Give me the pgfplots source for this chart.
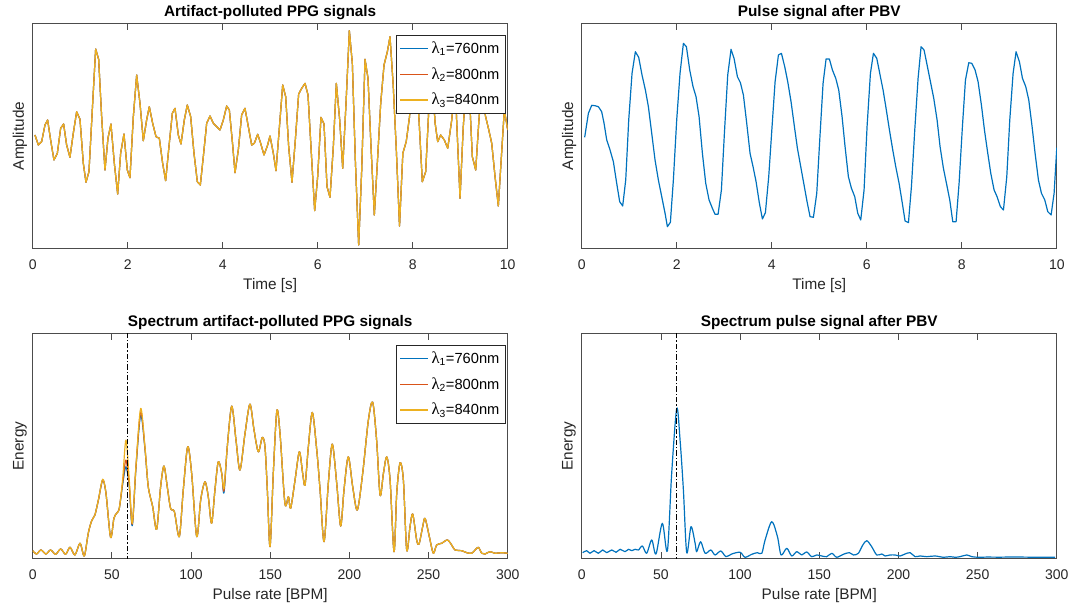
\documentclass[border=0pt]{standalone}
\usepackage{fontspec}
\setmainfont{Liberation Sans}
\newfontfamily\lamfont{Liberation Serif}
\usepackage{pgfplots}
\pgfplotsset{compat=1.18}
\usepackage{pgfplotstable}
\definecolor{mblue}{RGB}{0,114,189}
\definecolor{mred}{RGB}{217,83,25}
\definecolor{myel}{RGB}{237,177,32}
\definecolor{axgray}{RGB}{38,38,38}
\newcommand{\lam}[1]{{\lamfont\fontsize{12.5}{12}\selectfont λ}\textsubscript{#1}}

% raw PPG (same for the three wavelengths at this scale)
\pgfplotstableread{
t v
0.048 112.7
0.119 102.7
0.189 106
0.259 122.7
0.315 127.7
0.378 107.7
0.448 87.7
0.519 94.4
0.589 119.4
0.652 123.7
0.715 102.7
0.785 90.4
0.855 114.4
0.926 136.0
0.996 128.4
1.066 84.4
1.122 65.4
1.185 76.0
1.263 144.4
1.326 198.7
1.389 188.4
1.452 131.0
1.522 77.7
1.585 109.4
1.648 123.7
1.719 84.4
1.789 53.7
1.852 94.4
1.922 113.7
1.992 77.7
2.048 70.0
2.119 131.0
2.189 172.7
2.259 144.4
2.329 107.0
2.399 127.7
2.455 141.0
2.526 124.4
2.596 111.0
2.666 109.4
2.736 84.4
2.799 67.0
2.869 101.0
2.940 134.4
2.996 139.4
3.066 112.7
3.122 103.7
3.192 127.7
3.255 142.7
3.326 131.0
3.396 94.4
3.466 66.0
3.529 62.7
3.592 91.0
3.663 124.4
3.733 131.7
3.803 124.4
3.873 121.0
3.943 117.7
4.013 127.7
4.084 141.7
4.140 137.7
4.210 102.7
4.259 75.0
4.329 97.7
4.399 132.7
4.469 139.4
4.540 121.0
4.610 102.7
4.666 104.4
4.736 113.4
4.799 104.4
4.869 92.7
4.940 101.7
4.996 111.7
5.066 94.4
5.122 77.0
5.192 119.4
5.263 162.7
5.326 151.0
5.389 101.0
5.459 65.4
5.529 107.7
5.599 153.7
5.663 159.4
5.733 164.4
5.796 152.7
5.866 94.4
5.936 37.0
5.999 71.0
6.069 130.4
6.133 123.7
6.196 61.0
6.259 50.4
6.329 101.0
6.392 164.4
6.463 127.7
6.526 79.4
6.596 144.4
6.666 217.0
6.729 184.4
6.792 87.7
6.862 2.7
6.926 77.7
6.996 188.4
7.059 169.4
7.122 101.0
7.192 32.7
7.255 84.4
7.326 144.4
7.396 182.7
7.466 196.0
7.522 211.0
7.589 162.7
7.655 97.7
7.722 21.7
7.792 94.4
7.863 106.0
7.933 131.0
8.003 180.0
8.070 175.0
8.136 125.0
8.202 66.0
8.273 76.0
8.340 140.0
8.410 172.0
8.470 125.0
8.526 106.0
8.589 112.7
8.665 107.7
8.737 99.4
8.821 127.7
8.890 165.0
8.996 49.4
9.063 120.0
9.130 168.0
9.196 150.0
9.255 91.0
9.326 77.7
9.390 125.0
9.460 170.0
9.530 132.0
9.600 118.0
9.663 104.4
9.733 71.0
9.802 41.7
9.865 90.0
9.928 137.7
10.000 117.7
}\rawppg

% pulse after PBV
\pgfplotstableread{
t v
0.062 110.4
0.140 134.4
0.210 142.4
0.280 142.0
0.350 141.0
0.420 136.0
0.470 124.4
0.526 107.7
0.596 97.7
0.666 86.0
0.736 64.4
0.799 46.0
0.862 41.7
0.926 67.7
0.989 127.7
1.059 174.4
1.129 196.0
1.199 190.4
1.269 172.7
1.340 157.7
1.403 141.0
1.473 114.4
1.543 87.7
1.613 67.7
1.684 51.0
1.754 34.4
1.803 21.0
1.866 25.4
1.929 67.7
1.999 127.7
2.069 174.4
2.140 204.4
2.203 201.0
2.273 177.7
2.343 161.0
2.406 151.0
2.470 131.0
2.540 94.4
2.610 64.4
2.680 47.7
2.750 39.4
2.806 33.4
2.870 33.4
2.940 57.7
3.003 114.4
3.073 172.7
3.143 198.4
3.206 189.4
3.277 171.0
3.340 165.0
3.403 152.7
3.473 124.4
3.543 94.4
3.606 81.0
3.670 66.0
3.740 44.4
3.803 28.7
3.866 35.0
3.936 71.0
4.006 121.0
4.070 166.0
4.140 192.7
4.203 194.4
4.273 181.0
4.336 166.0
4.406 146.0
4.477 121.0
4.540 99.4
4.610 81.0
4.673 64.4
4.743 46.0
4.806 31.0
4.877 30.4
4.947 54.4
5.010 107.7
5.080 164.4
5.143 188.7
5.213 188.7
5.277 177.7
5.347 169.4
5.410 157.7
5.480 131.0
5.543 101.0
5.613 71.0
5.677 59.4
5.747 51.0
5.810 34.4
5.873 27.7
5.943 57.7
6.006 121.0
6.077 174.4
6.140 194.4
6.210 189.4
6.273 174.4
6.343 157.7
6.406 139.4
6.477 117.7
6.547 97.7
6.610 81.0
6.680 64.4
6.743 46.0
6.806 26.7
6.877 25.0
6.940 61.0
7.010 117.7
7.080 169.4
7.143 201.0
7.206 197.7
7.277 181.0
7.347 164.4
7.410 149.4
7.480 127.7
7.543 101.0
7.613 79.4
7.677 64.4
7.747 47.7
7.810 26.0
7.880 26.0
7.943 64.4
8.013 121.0
8.077 167.7
8.147 185.0
8.210 184.4
8.280 177.7
8.343 166.0
8.413 142.7
8.477 117.7
8.547 94.4
8.610 74.4
8.680 57.7
8.743 51.0
8.813 41.0
8.877 37.7
8.947 71.0
9.010 127.7
9.080 174.4
9.143 196.0
9.213 186.0
9.277 169.4
9.347 161.0
9.410 147.7
9.480 121.0
9.543 94.4
9.613 67.7
9.677 54.4
9.747 47.7
9.810 36.0
9.880 32.7
9.943 54.4
10.000 100.0
}\pulse

% spectrum of raw signals
\pgfplotstableread{
f a b c
0.0 6.0 6.0 6.0
2.5 2.7 2.7 2.7
5.2 6.7 6.7 6.7
8.4 2.7 2.7 2.7
11.3 6.7 6.7 6.7
14.5 2.4 2.4 2.4
17.7 7.7 7.7 7.7
20.8 2.4 2.4 2.4
23.6 9.4 9.4 9.4
26.7 1.7 1.7 1.7
29.9 13.4 13.4 13.4
32.6 0.7 0.7 0.7
35.1 23.4 23.4 23.4
37.2 35.7 35.7 35.7
39.3 41.7 41.7 41.7
41.5 56.7 56.7 56.7
44.2 76.7 76.7 77.5
46.3 63.4 63.4 63.4
49.2 19.4 19.4 19.4
51.3 38.4 38.4 38.4
53.0 43.4 43.4 43.4
54.7 48.4 48.4 48.4
56.8 72.0 74.0 76.7
58.9 90.0 96.7 116.7
61.0 70.0 72.0 76.7
62.9 31.0 32.5 33.4
65.2 88.0 89.0 90.0
68.2 141.7 145.0 148.4
70.9 108.0 109.0 110.0
73.0 70.0 70.0 70.0
75.8 50.0 50.0 50.0
78.3 27.4 27.4 27.4
80.8 70.0 70.0 70.0
82.9 90.7 90.7 90.7
85.0 70.0 70.0 70.0
87.1 48.4 48.4 48.4
89.5 45.0 45.0 45.0
92.6 20.0 20.0 20.0
95.1 66.7 66.7 66.7
97.9 110.0 110.0 110.0
100.4 83.4 83.4 83.4
103.6 20.0 20.0 20.0
106.1 56.7 56.7 56.7
108.8 75.0 75.0 75.0
110.9 60.0 60.0 60.0
113.0 33.4 33.4 33.4
115.1 66.7 66.7 66.7
117.2 95.0 95.0 95.0
119.4 83.4 83.4 83.4
120.8 64.0 66.0 68.4
122.9 110.0 110.0 110.0
125.7 150.7 150.7 150.7
128.4 116.7 116.7 116.7
130.9 86.7 86.7 86.7
134.1 123.4 123.4 123.4
137.2 152.7 152.7 152.7
139.8 126.7 126.7 126.7
142.5 105.0 105.0 105.0
145.0 119.4 119.4 119.4
146.7 110.0 110.0 110.0
148.2 66.7 66.7 66.7
149.9 10.0 10.0 10.0
152.0 85.0 85.0 85.0
154.2 146.0 146.0 146.0
156.2 123.4 123.4 123.4
159.3 53.4 53.4 53.4
161.5 60.0 60.0 60.0
162.9 48.4 48.4 48.4
165.7 76.7 76.7 76.7
168.4 105.0 105.0 105.0
170.5 83.4 83.4 83.4
172.0 71.7 71.7 71.7
174.1 110.0 110.0 110.0
176.6 144.4 144.4 144.4
179.4 106.7 106.7 106.7
181.5 66.7 66.7 66.7
184.0 15.0 15.0 15.0
186.7 73.4 73.4 73.4
189.2 112.7 112.7 112.7
192.0 73.4 73.4 73.4
194.5 30.7 30.7 30.7
196.6 66.7 66.7 66.7
199.3 100.0 100.0 100.0
202.1 70.0 70.0 70.0
205.0 46.7 46.7 46.7
208.4 83.4 83.4 83.4
212.0 136.7 136.7 136.7
214.7 154.7 154.7 154.7
217.2 116.7 116.7 116.7
219.4 61.7 61.7 61.7
221.5 83.4 83.4 83.4
223.6 100.0 100.0 100.0
225.7 76.7 76.7 76.7
228.2 5.0 5.0 5.0
229.9 63.4 63.4 63.4
232.0 94.0 94.0 94.0
234.1 76.7 76.7 76.7
236.2 6.7 6.7 6.7
238.3 30.0 30.0 30.0
240.0 42.7 42.7 42.7
242.5 16.7 16.7 16.7
244.0 12.7 12.7 12.7
246.3 30.0 30.0 30.0
247.8 38.4 38.4 38.4
250.5 20.0 20.0 20.0
253.0 3.4 3.4 3.4
255.1 11.7 11.7 11.7
258.3 13.4 13.4 13.4
261.9 16.7 16.7 16.7
264.6 11.7 11.7 11.7
266.7 6.7 6.7 6.7
270.9 6.0 6.0 6.0
274.1 4.0 4.0 4.0
277.2 3.4 3.4 3.4
279.4 6.7 6.7 6.7
281.5 9.4 9.4 9.4
283.6 3.4 3.4 3.4
285.7 2.7 2.7 2.7
288.8 5.0 5.0 5.0
292.0 3.4 3.4 3.4
296.2 4.0 4.0 4.0
300.0 3.4 3.4 3.4
}\rawspec

% spectrum of pulse signal
\pgfplotstableread{
f v
0.6 4.8
3.1 6.8
5.2 4.2
7.8 6.8
10.5 4.2
13.2 7.5
15.8 4.8
18.9 7.5
21.7 5.2
24.2 8.2
27.3 5.8
29.5 8.2
31.6 6.8
33.7 8.2
35.8 7.5
38.3 11.5
41.0 4.2
44.2 17.5
46.9 3.5
50.9 34.2
54.1 6.8
56.8 84.2
60.0 149.2
62.1 117.5
64.2 67.5
66.3 4.8
69.0 30.8
71.6 14.2
72.6 5.8
75.1 15.8
77.9 4.2
81.5 7.5
84.2 2.5
87.8 6.5
91.1 0.8
94.7 3.5
100.0 5.2
103.1 0.2
107.4 3.2
110.9 4.8
113.7 4.2
115.8 17.5
120.0 35.8
123.6 20.8
125.9 2.5
129.5 9.2
132.6 1.5
135.8 5.8
138.9 2.5
142.1 5.5
145.2 0.8
148.4 2.5
151.6 1.5
154.7 0.8
157.9 4.2
161.0 0.2
165.2 3.2
169.0 4.8
171.6 2.5
174.7 4.2
177.5 12.5
180.0 16.8
183.1 10.8
186.3 2.5
189.5 3.5
191.6 1.5
194.7 2.5
197.9 2.5
201.0 1.5
204.2 3.5
207.4 4.8
210.5 0.8
213.7 1.5
217.9 0.8
223.1 1.5
228.4 0.2
232.6 0.8
235.8 0.2
238.9 0.8
243.2 2.5
246.3 0.8
250.5 0.2
255.8 0.4
264.2 0.3
272.6 0.5
283.1 0.3
298.9 0.3
}\pulsespec

\pgfplotsset{mat/.style={
  scale only axis,width=356.3pt,height=168.4pt,
  axis line style={black!70,line width=0.6pt},
  tick style={black!70,line width=0.6pt},
  tick align=inside,major tick length=4.5pt,
  ytick=\empty,
  /pgf/number format/assume math mode=true,
  tick label style={font=\fontsize{10.5}{12}\selectfont,text=axgray},
  xticklabel style={anchor=center,yshift=-12pt},
  label style={font=\fontsize{11.5}{13}\selectfont,text=axgray},
  xlabel style={at={(axis description cs:0.5,0)},anchor=center,yshift=-27.75pt},
  ylabel style={at={(axis description cs:-0.0267,0.5)},anchor=center},
  title style={font=\bfseries\fontsize{11.5}{13}\selectfont,at={(axis description cs:0.5,1)},anchor=center,yshift=2.4pt},
  legend cell align=left,
  legend style={at={(axis description cs:0.9958,0.951)},anchor=north east,draw=axgray,line width=0.5pt,
    font=\fontsize{11}{12}\selectfont,row sep=5pt,inner xsep=2.5pt,inner ysep=3pt},
  legend image code/.code={\draw[#1] (0cm,0cm) -- (0.74cm,0cm);},
  every axis plot/.append style={line width=0.9pt,line join=round},
}}

\begin{document}
\begin{tikzpicture}
\useasboundingbox (0,0) rectangle (813.75pt,456pt);

\begin{axis}[mat,at={(24.5pt,269.8pt)},xmin=0,xmax=10,ymin=-0.6,ymax=224,
  xtick={0,2,4,6,8,10},title={Artifact-polluted PPG signals},xlabel={Time [s]},ylabel={Amplitude}]
\addplot[mblue] table[x=t,y=v] {\rawppg};
\addlegendentry{\lam{1}=760nm}
\addplot[mred] table[x=t,y=v] {\rawppg};
\addlegendentry{\lam{2}=800nm}
\addplot[myel] table[x=t,y=v] {\rawppg};
\addlegendentry{\lam{3}=840nm}
\end{axis}

\begin{axis}[mat,at={(436.3pt,269.8pt)},xmin=0,xmax=10,ymin=-0.6,ymax=224,
  xtick={0,2,4,6,8,10},title={Pulse signal after PBV},xlabel={Time [s]},ylabel={Amplitude}]
\addplot[mblue] table[x=t,y=v] {\pulse};
\end{axis}

\begin{axis}[mat,at={(24.5pt,37.3pt)},xmin=0,xmax=300,ymin=-1.6,ymax=223.2,
  xtick={0,50,...,300},title={Spectrum artifact-polluted PPG signals},xlabel={Pulse rate [BPM]},ylabel={Energy}]
\addplot[mblue,smooth,tension=0.5] table[x=f,y=a] {\rawspec};
\addlegendentry{\lam{1}=760nm}
\addplot[mred,smooth,tension=0.5] table[x=f,y=b] {\rawspec};
\addlegendentry{\lam{2}=800nm}
\addplot[myel,smooth,tension=0.5] table[x=f,y=c] {\rawspec};
\addlegendentry{\lam{3}=840nm}
\addplot[black,line width=0.8pt,dash pattern=on 4pt off 1.5pt on 1pt off 1.5pt,forget plot] coordinates {(60,-5) (60,230)};
\end{axis}

\begin{axis}[mat,at={(436.3pt,37.3pt)},xmin=0,xmax=300,ymin=-0.8,ymax=224,
  xtick={0,50,...,300},title={Spectrum pulse signal after PBV},xlabel={Pulse rate [BPM]},ylabel={Energy}]
\addplot[mblue,smooth,tension=0.5] table[x=f,y=v] {\pulsespec};
\addplot[black,line width=0.8pt,dash pattern=on 4pt off 1.5pt on 1pt off 1.5pt,forget plot] coordinates {(60,-5) (60,230)};
\end{axis}
\end{tikzpicture}
\end{document}
